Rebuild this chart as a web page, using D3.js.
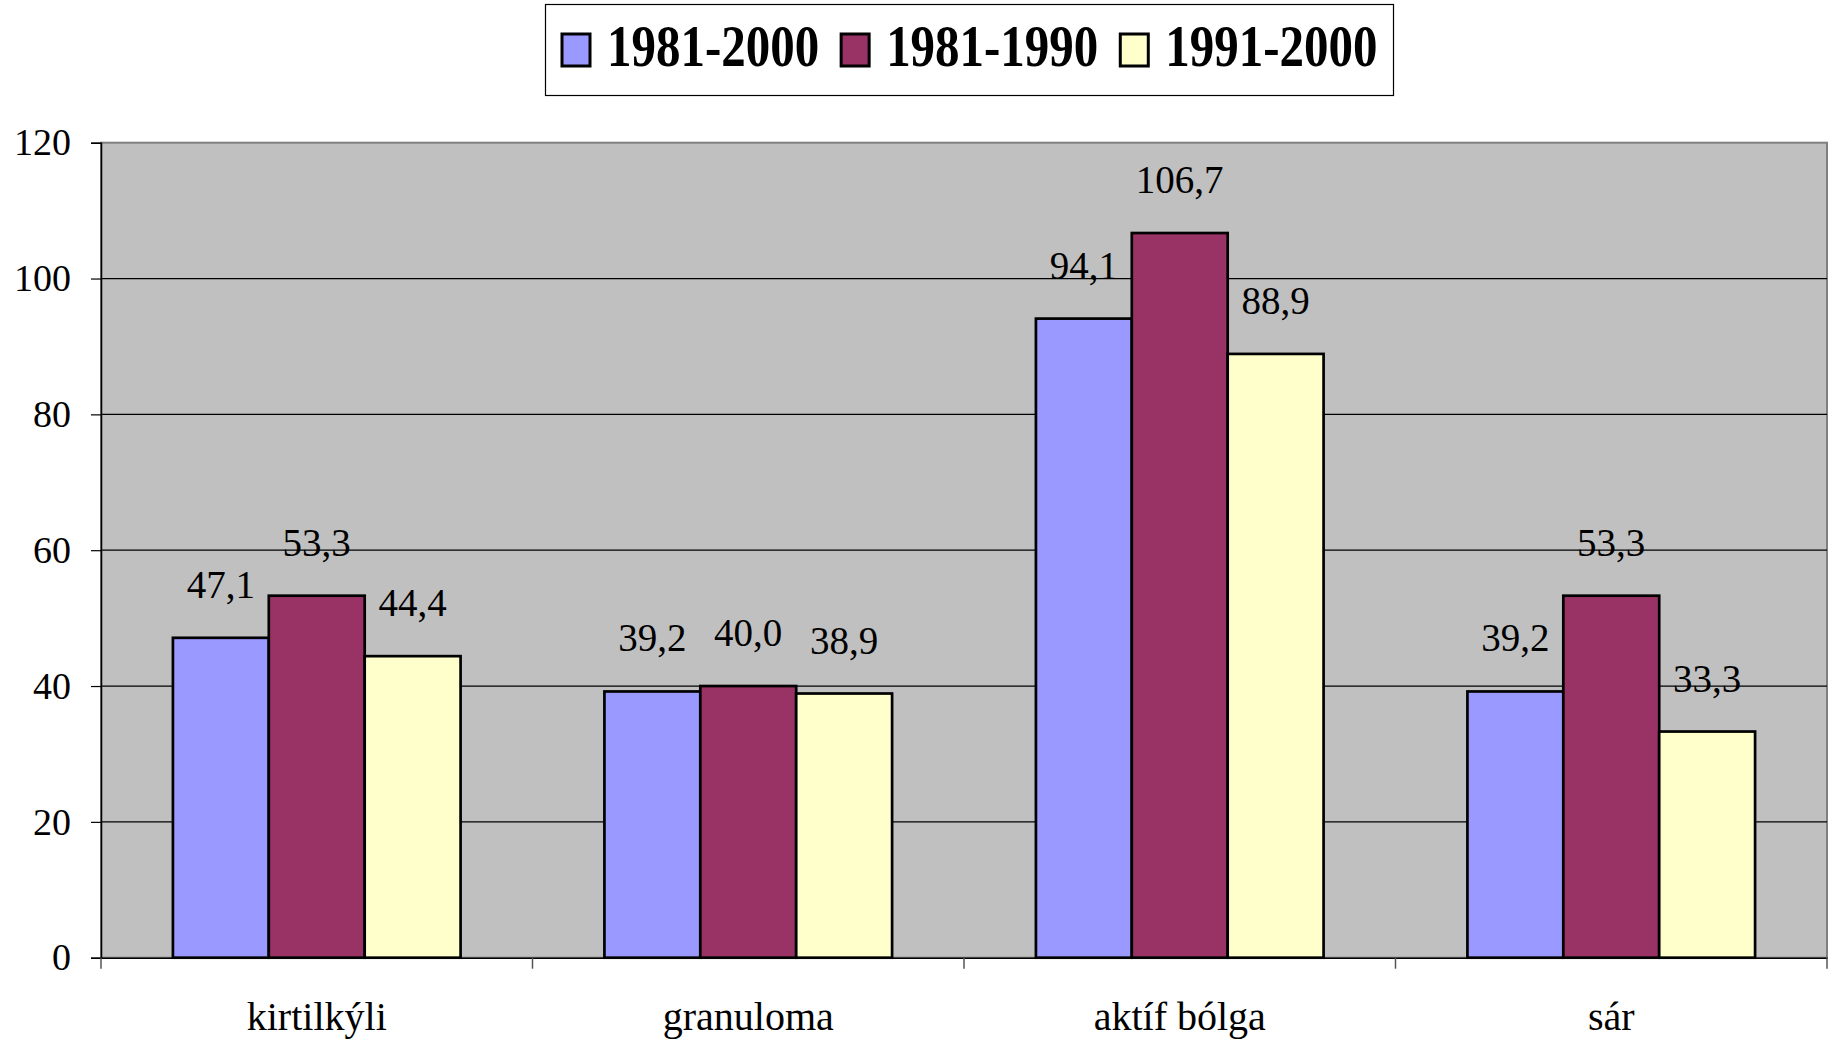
<!DOCTYPE html>
<html>
<head>
<meta charset="utf-8">
<script src="https://cdn.jsdelivr.net/npm/d3@7"></script>
<style>
  html, body { margin: 0; padding: 0; background: #ffffff; }
  svg { display: block; }
  text { font-family: "Liberation Serif", "Times New Roman", serif; }
</style>
</head>
<body>
<svg id="chart" width="1829" height="1042"></svg>
<script>
const categories = ["kirtilkýli", "granuloma", "aktíf bólga", "sár"];
const seriesNames = ["1981-2000", "1981-1990", "1991-2000"];
const values1981_2000 = [47.1, 39.2, 94.1, 39.2];
const values1981_1990 = [53.3, 40.0, 106.7, 53.3];
const values1991_2000 = [44.4, 38.9, 88.9, 33.3];
const seriesColors = ["#9999FF", "#993366", "#FFFFCC"];
const yTicks = [0, 20, 40, 60, 80, 100, 120];

const seriesValues = [values1981_2000, values1981_1990, values1991_2000];
const data = categories.map((c, i) => ({
  category: c,
  values: seriesNames.map((s, j) => ({ series: s, idx: j, value: seriesValues[j][i] }))
}));

const svg = d3.select("#chart");
const plot = { left: 101, right: 1827, top: 142.7, bottom: 957.7 };

const x0 = d3.scaleBand().domain(categories).range([plot.left, plot.right]).padding(0);
const groupW = x0.bandwidth() * 3 / 4.5;
const x1 = d3.scaleBand().domain(seriesNames).range([0, groupW]).padding(0);
const y = d3.scaleLinear().domain([0, 120]).range([plot.bottom, plot.top]);

// plot background
svg.append("rect")
  .attr("x", plot.left).attr("y", plot.top)
  .attr("width", plot.right - plot.left).attr("height", plot.bottom - plot.top)
  .attr("fill", "#C0C0C0")
  .attr("stroke", "#808080").attr("stroke-width", 2);

// gridlines
svg.append("g").selectAll("line")
  .data(yTicks.filter(t => t > 0 && t < 120))
  .join("line")
  .attr("x1", plot.left).attr("x2", plot.right)
  .attr("y1", d => y(d)).attr("y2", d => y(d))
  .attr("stroke", "#000").attr("stroke-width", 1.2);

// y axis
const yAxis = svg.append("g")
  .attr("transform", `translate(${plot.left},0)`)
  .call(d3.axisLeft(y).tickValues(yTicks).tickSize(10).tickPadding(20).tickFormat(d3.format("d")));
yAxis.attr("font-family", "Liberation Serif");
yAxis.select(".domain").attr("stroke", "#000").attr("stroke-width", 1.5);
yAxis.selectAll(".tick line").attr("stroke", "#000").attr("stroke-width", 1.2);
yAxis.selectAll(".tick text")
  .attr("font-size", 38).attr("fill", "#000")
  .attr("font-family", "Liberation Serif");

// bars
const groups = svg.append("g").selectAll("g")
  .data(data).join("g")
  .attr("transform", d => `translate(${x0(d.category) + (x0.bandwidth() - groupW) / 2},0)`);

groups.selectAll("rect")
  .data(d => d.values).join("rect")
  .attr("x", d => x1(d.series))
  .attr("y", d => y(d.value))
  .attr("width", x1.bandwidth())
  .attr("height", d => y(0) - y(d.value))
  .attr("fill", d => seriesColors[d.idx])
  .attr("stroke", "#000").attr("stroke-width", 2.7);

// data labels
const fmt = v => d3.format(".1f")(v).replace(".", ",");
groups.selectAll("text.lbl")
  .data(d => d.values).join("text")
  .attr("class", "lbl")
  .attr("x", d => x1(d.series) + x1.bandwidth() / 2)
  .attr("y", d => y(d.value) - 40)
  .attr("text-anchor", "middle")
  .attr("font-size", 39)
  .attr("fill", "#000")
  .text(d => fmt(d.value));

// x axis
const xAxis = svg.append("g")
  .attr("transform", `translate(0,${plot.bottom})`)
  .call(d3.axisBottom(x0).tickSize(0).tickPadding(0).tickFormat(() => ""));
xAxis.select(".domain").attr("stroke", "#000").attr("stroke-width", 1.5);
xAxis.selectAll(".tick").remove();

// category boundary ticks
const boundaries = categories.map(c => x0(c)).concat([plot.right]);
svg.append("g").selectAll("line")
  .data(boundaries).join("line")
  .attr("x1", d => d).attr("x2", d => d)
  .attr("y1", plot.bottom).attr("y2", plot.bottom + 11)
  .attr("stroke", "#555").attr("stroke-width", 1.5);

// category labels
svg.append("g").selectAll("text")
  .data(categories).join("text")
  .attr("x", d => x0(d) + x0.bandwidth() / 2)
  .attr("y", 1030)
  .attr("text-anchor", "middle")
  .attr("font-size", 40)
  .attr("fill", "#000")
  .text(d => d);

// legend
const legend = svg.append("g");
legend.append("rect")
  .attr("x", 545.5).attr("y", 4.5).attr("width", 848).attr("height", 91)
  .attr("fill", "#fff").attr("stroke", "#000").attr("stroke-width", 1.2);

const sx = 0.83;
let cx = 562;
seriesNames.forEach((s, i) => {
  legend.append("rect")
    .attr("x", cx).attr("y", 34).attr("width", 28).attr("height", 32)
    .attr("fill", seriesColors[i]).attr("stroke", "#000").attr("stroke-width", 3);
  cx += 28 + 17;
  const t = legend.append("text")
    .attr("transform", `translate(${cx},66) scale(${sx},1)`)
    .attr("font-size", 59).attr("font-weight", "bold").attr("fill", "#000")
    .text(s);
  const w = t.node().getComputedTextLength() * sx;
  cx += w + 22;
});
</script>
</body>
</html>
